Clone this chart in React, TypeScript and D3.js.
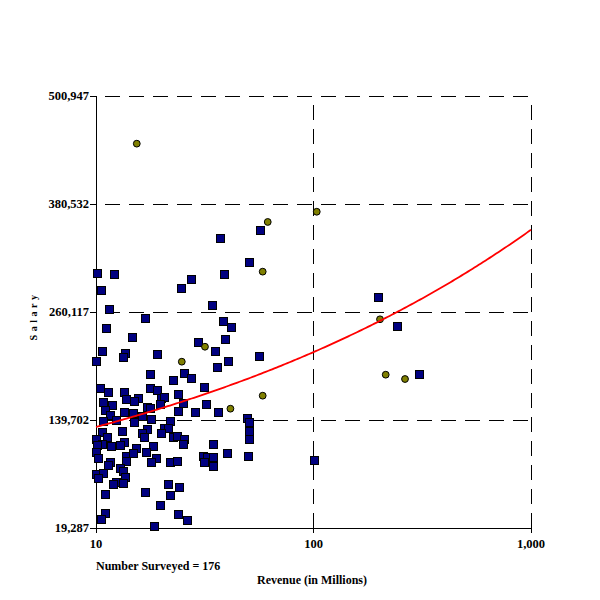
import React from "react";
import * as d3 from "d3";

// Blue squares: surveyed companies
const companyRevenue = [
  10.1, 10.5, 12.1, 11.5, 11.1, 10.6, 10.0, 16.8, 14.7, 13.6, 13.3, 19.0, 24.5, 27.3, 34.0, 37.2, 38.9, 50.4, 56.6, 38.2,
  41.6, 39.2, 29.3, 35.3, 40.3, 56.0, 35.9, 17.8, 25.4, 27.3, 22.5, 31.3, 10.4, 17.7, 19.0, 13.5, 11.4, 23.7, 15.6, 19.8,
  20.5, 10.8, 11.8, 13.7, 15.0, 25.0, 31.9, 19.7, 17.1, 17.7, 11.0, 13.5, 14.8, 11.6, 16.2, 23.7, 28.5, 36.3, 17.9, 22.0,
  10.8, 12.3, 15.0, 49.3, 50.4, 50.4, 50.7, 20.5, 21.4, 20.0, 17.1, 10.7, 13.2, 16.3, 11.2, 16.7, 22.5, 23.6, 25.4, 25.0,
  10.0, 13.4, 10.7, 11.7, 12.9, 15.2, 10.1, 18.2, 34.4, 10.0, 10.2, 13.8, 14.8, 16.9, 18.9, 17.9, 22.0, 23.5, 31.2, 32.4,
  34.5, 31.4, 34.4, 39.9, 50.1, 11.6, 11.4, 13.8, 10.0, 10.8, 10.2, 12.9, 13.3, 13.6, 12.4, 13.3, 12.0, 21.4, 24.1, 11.0,
  16.8, 22.0, 19.7, 11.0, 10.5, 23.7, 26.1, 18.5, 100.2, 197.4, 241.3, 305.6,
];
const companySalary = [
  303600, 284600, 302200, 263100, 242600, 217000, 205800, 253800, 232600, 214100, 210300, 213300, 287200, 297200, 268300, 343000, 302200, 316200, 351900, 250400,
  243700, 230300, 227000, 217000, 205800, 211400, 199100, 190700, 191800, 186200, 184300, 176800, 175900, 175700, 173200, 171300, 170600, 168700, 163900, 164600,
  165700, 159400, 156400, 162800, 160600, 159000, 157500, 157200, 154200, 152700, 150900, 149000, 147800, 145300, 144200, 150100, 149000, 149000, 141200, 138600,
  138900, 139700, 137500, 141600, 137800, 127800, 118200, 131100, 131300, 125500, 129300, 126000, 127400, 125200, 121100, 120200, 120200, 122200, 118200, 112900,
  118500, 115500, 112900, 110700, 111500, 108700, 111500, 110700, 112600, 103700, 97000, 100100, 102600, 103500, 97700, 93200, 93200, 94300, 99600, 99000,
  99000, 93200, 88800, 103200, 99900, 93200, 89500, 94000, 79200, 80900, 74700, 85900, 82800, 76500, 71100, 69100, 67800, 68300, 65300, 57200,
  59800, 56400, 45300, 36300, 29300, 34900, 28500, 21900, 95400, 277200, 244800, 191000,
];

// Olive circles: highlighted companies
const highlightRevenue = [15.4, 61.6, 58.4, 31.7, 24.8, 58.4, 41.5, 103.5, 202.2, 214.8, 263.5];
const highlightSalary = [447800, 360500, 305100, 221400, 204700, 166800, 152300, 371900, 252000, 190200, 185400];

// Power trend line: salary = TREND_A * revenue ^ TREND_B
const TREND_A = 80770;
const TREND_B = 0.213;

const yTicks = [19287, 139702, 260117, 380532, 500947];
const xTicks = [10, 100, 1000];
const xTickLabels = ["10", "100", "1,000"];

const FONT = "'Liberation Serif', 'Times New Roman', serif";

export default function App() {
  const left = 96, right = 531, top = 96, bottom = 528;
  const x = d3.scaleLog().domain([10, 1000]).range([left, right]);
  const y = d3.scaleLinear().domain([19287, 500947]).range([bottom, top]);
  const fmt = d3.format(",");

  const trendXs = d3.range(0, 201).map((i) => Math.pow(10, 1 + (2 * i) / 200));
  const trendPath = d3
    .line<number>()
    .x((v) => x(v))
    .y((v) => y(TREND_A * Math.pow(v, TREND_B)))(trendXs);

  const dash = "15,9";

  return (
    <svg
      width={600}
      height={600}
      style={{ position: "absolute", left: 0, top: 0, background: "#fff" }}
      fontFamily={FONT}
      fontWeight="bold"
    >
      <rect x={0} y={0} width={600} height={600} fill="#fff" />
      {/* horizontal grid */}
      {yTicks.slice(1).map((t) => (
        <line key={"hg" + t} x1={left} x2={right} y1={y(t)} y2={y(t)} stroke="#000" strokeWidth={1}
          strokeDasharray={dash} strokeDashoffset={15} shapeRendering="crispEdges" />
      ))}
      {/* vertical grid */}
      {xTicks.slice(1).map((t) => (
        <line key={"vg" + t} x1={x(t)} x2={x(t)} y1={top} y2={bottom} stroke="#000" strokeWidth={1}
          strokeDasharray={dash} strokeDashoffset={15} shapeRendering="crispEdges" />
      ))}
      {/* axes */}
      <line x1={left} x2={left} y1={top} y2={bottom + 5} stroke="#000" shapeRendering="crispEdges" />
      <line x1={left} x2={right} y1={bottom} y2={bottom} stroke="#000" shapeRendering="crispEdges" />
      {yTicks.map((t) => (
        <g key={"yt" + t}>
          <line x1={left - 6} x2={left} y1={y(t)} y2={y(t)} stroke="#000" shapeRendering="crispEdges" />
          <text x={left - 7} y={y(t) + 4} textAnchor="end" fontSize={12.5}>{fmt(t)}</text>
        </g>
      ))}
      {xTicks.map((t, i) => (
        <g key={"xt" + t}>
          <line x1={x(t)} x2={x(t)} y1={bottom} y2={bottom + 5} stroke="#000" shapeRendering="crispEdges" />
          <text x={x(t)} y={bottom + 20} textAnchor="middle" fontSize={12.5}>{xTickLabels[i]}</text>
        </g>
      ))}
      {/* points */}
      {companyRevenue.map((r, i) => (
        <rect key={"c" + i} x={Math.round(x(r)) - 4} y={Math.round(y(companySalary[i])) - 4} width={8} height={8}
          fill="#000080" stroke="#000" strokeWidth={1} shapeRendering="crispEdges" />
      ))}
      {highlightRevenue.map((r, i) => (
        <circle key={"h" + i} cx={x(r)} cy={y(highlightSalary[i])} r={3.4} fill="#808000" stroke="#000" strokeWidth={1} />
      ))}
      <path d={trendPath || ""} fill="none" stroke="#ff0000" strokeWidth={1.8} />
      {/* labels */}
      <text x={left} y={570} fontSize={12}>Number Surveyed = 176</text>
      <text x={312} y={584} textAnchor="middle" fontSize={12}>Revenue (in Millions)</text>
      <text transform="translate(37,316) rotate(-90)" textAnchor="middle" fontSize={10} letterSpacing={3.5}>Salary</text>
    </svg>
  );
}
